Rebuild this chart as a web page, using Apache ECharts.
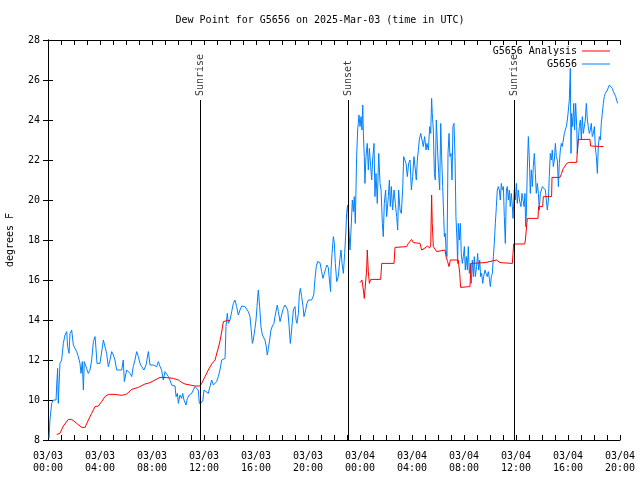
<!DOCTYPE html>
<html><head><meta charset="utf-8">
<script src="https://cdn.jsdelivr.net/npm/echarts@6/dist/echarts.min.js"></script>
<style>html,body{margin:0;padding:0;background:#fff}#c{width:640px;height:480px}</style>
</head><body><div id="c"></div>
<script>
const FONT = '"DejaVu Sans Mono", "Liberation Mono", monospace';
const titleText = 'Dew Point for G5656 on 2025-Mar-03 (time in UTC)';
const yAxisTitle = 'degrees F';
const seriesNames = ['G5656 Analysis', 'G5656'];
const xMinHour = 0, xMaxHour = 44, xStepHour = 4;
const dayLabels = ['03/03', '03/04'];
const yMin = 8, yMax = 28, yStep = 2;
const eventHours = [11.72, 23.10, 35.87];
const eventLabels = ['Sunrise', 'Sunset', 'Sunrise'];
const eventTop = 25;

// [hours since 2025-03-03 00:00 UTC, dew point °F]
const analysisData = [
[0.67,8.28],[0.92,8.33],[1.18,8.7],[1.56,9.03],[1.82,9.03],[2.21,8.83],[2.59,8.63],[2.85,8.63],[3.10,9.0],[3.36,9.33],
[3.62,9.67],[3.87,9.7],[4.13,9.92],[4.38,10.17],[4.64,10.28],[5.15,10.28],[5.67,10.23],[6.05,10.3],[6.44,10.53],[6.95,10.63],
[7.46,10.8],[7.85,10.87],[8.23,11.0],[8.62,11.13],[9.13,11.12],[9.64,11.08],[10.03,11.0],[10.28,10.88],[10.54,10.8],[10.92,10.75],
[11.31,10.7],[11.69,10.7],[11.82,10.83],[12.08,11.17],[12.33,11.5],[12.59,11.8],[12.72,11.83],[12.85,12.0],[12.97,12.3],[13.10,12.6],
[13.23,12.95],[13.36,13.4],[13.49,13.92],[13.79,13.97],[14.0,13.97],[19,null],
[24.0,15.87],[24.15,16.0],[24.26,15.5],[24.33,15.08],[24.46,15.08],[24.51,16.5],[24.56,17.5],[24.64,16.42],[24.72,15.83],[24.82,16.03],
[25.59,16.03],[25.67,16.83],[26.62,16.83],[26.69,17.63],[27.59,17.67],[27.72,17.83],[27.97,18.03],[28.10,17.87],[28.62,17.83],[28.74,17.5],
[29.0,17.6],[29.18,17.7],[29.36,17.6],[29.44,17.75],[29.51,20.25],[29.56,18.83],[29.64,17.67],[29.79,17.58],[29.90,17.42],[30.54,17.5],
[30.62,17.17],[30.74,16.92],[30.85,16.67],[30.95,17.0],[31.56,17.0],[31.67,16.33],[31.74,15.63],[32.46,15.67],[32.54,16.83],[33.62,16.87],
[33.69,16.97],[34.51,17.0],[34.77,16.87],[35.72,16.83],[35.77,17.33],[35.82,17.8],[36.67,17.8],[36.72,18.0],[36.87,19.08],[37.69,19.08],
[37.74,19.67],[38.05,19.67],[38.10,20.17],[38.74,20.17],[38.77,21.13],[39.38,21.13],[39.51,21.33],[39.64,21.58],[39.77,21.7],[39.90,21.83],
[40.10,21.88],[40.67,21.88],[40.72,22.5],[40.79,23.03],[41.69,23.03],[41.74,22.7],[42.72,22.67]
];

const stationData = [
[0.08,8.08],[0.15,9.0],[0.28,9.83],[0.41,10.0],[0.62,10.0],[0.67,10.75],[0.74,11.58],[0.79,9.83],[0.92,11.83],[1.05,12.0],
[1.18,12.83],[1.31,13.25],[1.44,13.42],[1.51,12.67],[1.62,12.33],[1.69,13.33],[1.82,13.5],[1.95,12.75],[2.08,12.58],[2.21,12.42],
[2.33,12.17],[2.46,11.83],[2.54,11.33],[2.64,11.92],[2.72,10.5],[2.79,11.92],[2.97,11.58],[3.10,11.33],[3.23,11.5],[3.36,12.0],
[3.49,12.92],[3.62,13.17],[3.69,12.58],[3.77,11.83],[4.0,11.83],[4.13,11.83],[4.26,13.0],[4.38,13.08],[4.51,12.33],[4.64,11.67],
[4.77,12.0],[4.90,12.42],[5.03,12.25],[5.15,12.0],[5.28,11.5],[5.41,11.5],[5.67,11.5],[5.79,12.0],[5.87,10.92],[6.05,11.5],
[6.18,11.42],[6.31,11.33],[6.44,11.17],[6.56,11.67],[6.69,12.0],[6.82,12.42],[6.95,12.17],[7.08,11.83],[7.21,11.67],[7.33,11.58],
[7.38,11.5],[7.54,11.75],[7.72,12.42],[7.85,11.75],[8.10,11.75],[8.36,11.67],[8.49,11.92],[8.62,11.67],[8.74,11.5],[8.87,11.0],
[9.0,11.42],[9.13,11.5],[9.26,11.17],[9.38,11.0],[9.51,10.75],[9.64,10.75],[9.77,10.7],[9.85,10.17],[9.95,10.33],[10.03,9.83],
[10.15,10.25],[10.28,10.08],[10.36,10.33],[10.46,10.0],[10.62,9.75],[10.72,10.08],[10.87,10.25],[11.05,10.33],[11.18,10.5],[11.31,10.67],
[11.44,10.75],[11.56,10.5],[11.64,9.83],[11.74,9.8],[11.90,9.92],[12.0,10.5],[12.15,10.58],[12.33,10.33],[12.46,10.67],[12.59,11.0],
[12.72,10.75],[12.85,10.83],[12.97,10.92],[13.10,11.17],[13.23,11.5],[13.36,12.0],[13.49,12.08],[13.62,12.08],[13.69,13.67],[13.79,14.33],
[13.87,13.83],[14.0,14.0],[14.13,14.42],[14.26,14.83],[14.38,15.0],[14.51,14.67],[14.64,14.25],[14.77,14.5],[14.90,14.7],[15.03,14.75],
[15.15,14.67],[15.28,14.58],[15.41,14.42],[15.54,14.17],[15.62,13.58],[15.72,12.83],[15.79,13.0],[15.92,13.58],[16.0,14.0],[16.08,14.67],
[16.13,15.17],[16.18,15.5],[16.28,14.67],[16.38,13.67],[16.49,13.25],[16.56,13.17],[16.69,13.0],[16.77,12.75],[16.87,12.25],[16.95,12.58],
[17.05,13.0],[17.15,13.5],[17.26,13.7],[17.38,13.83],[17.46,14.17],[17.56,14.5],[17.64,14.75],[17.72,14.42],[17.85,13.92],[17.97,14.25],
[18.10,14.58],[18.23,14.75],[18.36,14.8],[18.44,14.5],[18.54,13.75],[18.64,12.83],[18.74,13.5],[18.87,14.5],[19.0,14.67],[19.08,14.0],
[19.15,13.83],[19.26,14.33],[19.33,15.25],[19.41,15.58],[19.51,15.17],[19.62,14.67],[19.69,14.17],[19.82,14.5],[19.92,14.83],[20.03,15.0],
[20.28,15.0],[20.44,15.25],[20.54,16.08],[20.64,16.67],[20.74,16.92],[20.92,16.87],[21.05,16.42],[21.15,16.08],[21.26,16.33],[21.36,16.58],
[21.46,16.75],[21.56,16.63],[21.67,15.83],[21.74,15.42],[21.77,16.5],[21.85,17.33],[21.95,18.17],[22.03,17.83],[22.10,16.83],[22.21,15.92],
[22.33,16.17],[22.46,17.08],[22.54,17.5],[22.62,16.83],[22.72,16.33],[22.82,17.33],[22.92,18.5],[22.97,19.33],[23.05,19.75],[23.15,18.5],
[23.23,17.5],[23.31,18.5],[23.41,20.0],[23.49,19.42],[23.56,20.17],[23.64,18.83],[23.74,22.17],[23.82,23.5],[23.92,24.25],[24.0,23.67],
[24.08,24.17],[24.15,23.5],[24.21,24.75],[24.26,23.33],[24.33,22.17],[24.38,20.83],[24.46,22.17],[24.56,22.83],[24.64,21.5],[24.72,22.58],
[24.82,21.67],[24.90,21.0],[24.97,22.0],[25.08,22.83],[25.15,20.17],[25.23,21.33],[25.33,19.83],[25.44,22.33],[25.54,20.83],[25.62,20.5],
[25.72,18.83],[25.79,18.17],[25.87,19.83],[25.97,20.5],[26.05,19.17],[26.18,20.17],[26.26,21.0],[26.33,19.67],[26.41,20.67],[26.51,19.5],
[26.62,20.5],[26.72,19.83],[26.82,19.17],[26.90,18.5],[26.97,20.5],[27.08,19.5],[27.18,19.33],[27.28,20.5],[27.36,22.17],[27.46,22.17],
[27.54,21.83],[27.64,21.17],[27.74,21.83],[27.85,22.0],[27.95,20.5],[28.05,21.17],[28.15,22.17],[28.26,21.5],[28.33,21.0],[28.41,22.0],
[28.49,22.5],[28.56,23.0],[28.67,23.33],[28.77,23.0],[28.87,22.67],[28.97,23.17],[29.08,22.5],[29.15,22.83],[29.26,22.5],[29.36,23.67],
[29.44,23.33],[29.51,25.08],[29.56,24.33],[29.64,23.5],[29.72,21.33],[29.79,21.0],[29.87,24.0],[29.97,22.5],[30.05,21.33],[30.13,20.5],
[30.21,23.83],[30.28,22.17],[30.36,20.67],[30.44,19.17],[30.49,18.17],[30.56,18.33],[30.62,17.5],[30.69,17.17],[30.77,22.33],[30.85,23.33],
[30.92,22.17],[31.0,22.33],[31.08,21.0],[31.15,23.67],[31.23,23.83],[31.31,22.17],[31.38,19.17],[31.46,18.0],[31.51,16.83],[31.56,18.83],
[31.64,18.0],[31.72,18.83],[31.79,17.33],[31.87,16.83],[31.95,17.17],[32.03,17.67],[32.10,16.5],[32.18,17.17],[32.26,16.5],[32.33,17.67],
[32.41,16.33],[32.49,16.83],[32.56,15.83],[32.64,17.0],[32.72,16.17],[32.79,17.17],[32.87,16.17],[32.97,16.67],[33.05,17.33],[33.13,16.5],
[33.21,17.0],[33.28,16.17],[33.36,16.33],[33.44,15.83],[33.51,16.17],[33.62,16.5],[33.69,16.33],[33.79,16.17],[33.87,16.42],[33.95,16.08],
[34.03,15.67],[34.10,16.17],[34.18,16.33],[34.26,17.17],[34.33,17.83],[34.41,18.83],[34.49,19.67],[34.56,20.5],[34.64,20.67],[34.72,20.5],
[34.79,20.0],[34.87,20.83],[34.95,20.5],[35.03,20.67],[35.10,19.17],[35.18,17.83],[35.26,20.5],[35.33,20.67],[35.41,20.0],[35.49,20.5],
[35.56,19.67],[35.64,20.33],[35.72,19.67],[35.77,19.08],[35.87,20.5],[35.95,20.0],[36.03,20.83],[36.10,19.83],[36.18,20.5],[36.26,20.0],
[36.31,20.0],[36.38,19.67],[36.46,20.33],[36.54,20.0],[36.62,19.67],[36.69,20.33],[36.74,18.67],[36.79,19.17],[36.87,21.5],[36.95,23.17],
[37.03,22.0],[37.10,20.33],[37.18,21.5],[37.26,20.67],[37.33,21.67],[37.41,22.33],[37.49,21.33],[37.56,20.33],[37.64,20.83],[37.72,20.33],
[37.79,19.5],[37.87,20.33],[37.95,20.5],[38.03,20.67],[38.10,20.67],[38.18,20.67],[38.26,20.5],[38.33,20.0],[38.41,19.5],[38.49,20.0],
[38.56,21.17],[38.64,22.33],[38.72,22.0],[38.79,22.5],[38.87,21.67],[38.95,22.0],[39.03,22.83],[39.10,22.17],[39.18,22.0],[39.26,20.67],
[39.33,21.83],[39.41,22.5],[39.49,22.83],[39.56,22.67],[39.64,23.0],[39.72,23.33],[39.79,23.5],[39.87,23.67],[39.95,24.0],[40.03,24.5],
[40.10,25.0],[40.18,26.58],[40.23,22.33],[40.28,24.33],[40.36,23.67],[40.44,24.83],[40.51,23.5],[40.59,24.83],[40.67,23.67],[40.72,22.33],
[40.79,23.0],[40.87,23.67],[40.95,24.0],[41.03,23.0],[41.10,24.17],[41.18,23.33],[41.26,23.33],[41.33,24.0],[41.41,24.83],[41.49,24.0],
[41.56,23.67],[41.64,23.33],[41.72,23.5],[41.79,23.83],[41.87,23.17],[41.95,23.33],[42.03,23.67],[42.10,22.67],[42.18,22.17],[42.26,21.33],
[42.33,22.67],[42.41,23.17],[42.49,23.0],[42.56,23.83],[42.64,24.33],[42.72,24.83],[42.79,25.17],[42.87,25.33],[42.95,25.42],[43.03,25.5],
[43.10,25.58],[43.18,25.75],[43.26,25.8],[43.33,25.75],[43.41,25.58],[43.49,25.42],[43.56,25.33],[43.67,25.17],[43.74,25.0],[43.82,24.83]
];

function fmtX(v) {
  const h = Math.round(v);
  const day = dayLabels[Math.floor(h / 24)] || '';
  const hh = String(h % 24).padStart(2, '0');
  return day + '\n' + hh + ':00';
}

const chart = echarts.init(document.getElementById('c'), null, {renderer: 'canvas'});
const axisCommon = {
  axisLine: {show: true, lineStyle: {color: '#000', width: 1}},
  splitLine: {show: false}
};
chart.setOption({
  animation: false,
  backgroundColor: '#fff',
  textStyle: {fontFamily: FONT, color: '#000'},
  title: {text: titleText, left: 'center', top: 10,
    textStyle: {fontFamily: FONT, fontSize: 10, fontWeight: 'normal', color: '#000'}},
  legend: {
    data: seriesNames, orient: 'vertical', right: 25, top: 41, align: 'right',
    icon: 'rect', itemWidth: 28, itemHeight: 1, itemGap: 3,
    textStyle: {fontFamily: FONT, fontSize: 10, color: '#000'}
  },
  grid: {left: 48, right: 20, top: 40, bottom: 40, containLabel: false, outerBoundsMode: 'none'},
  xAxis: [
    Object.assign({type: 'value', min: xMinHour, max: xMaxHour, interval: xStepHour, position: 'bottom',
      axisTick: {show: true, inside: true, length: 5, lineStyle: {color: '#000'}},
      minorTick: {show: true, splitNumber: 4, length: 5, lineStyle: {color: '#000'}},
      axisLabel: {formatter: fmtX, fontFamily: FONT, fontSize: 10, color: '#000', lineHeight: 12, margin: 10}
    }, axisCommon),
    Object.assign({type: 'value', min: xMinHour, max: xMaxHour, interval: xStepHour, position: 'top',
      axisTick: {show: true, inside: true, length: 5, lineStyle: {color: '#000'}},
      minorTick: {show: true, splitNumber: 4, length: 5, lineStyle: {color: '#000'}},
      axisLabel: {show: false}
    }, axisCommon)
  ],
  yAxis: [
    Object.assign({type: 'value', min: yMin, max: yMax, interval: yStep, position: 'left',
      name: yAxisTitle, nameLocation: 'middle', nameGap: 33, nameRotate: 90,
      nameTextStyle: {fontFamily: FONT, fontSize: 10, color: '#000'},
      axisTick: {show: true, inside: true, length: 5, lineStyle: {color: '#000'}},
      axisLabel: {fontFamily: FONT, fontSize: 10, color: '#000', margin: 8}
    }, axisCommon),
    Object.assign({type: 'value', min: yMin, max: yMax, interval: yStep, position: 'right',
      axisTick: {show: true, inside: true, length: 5, lineStyle: {color: '#000'}},
      axisLabel: {show: false}
    }, axisCommon)
  ],
  series: [
    {
      name: seriesNames[0], type: 'line', xAxisIndex: 0, yAxisIndex: 0,
      data: analysisData.map(d => [d[0], d[1] === null ? '-' : d[1]]),
      showSymbol: false, symbol: 'none', connectNulls: false,
      lineStyle: {color: '#ff0000', width: 1}, itemStyle: {color: '#ff0000'}, z: 3
    },
    {
      name: seriesNames[1], type: 'line', xAxisIndex: 0, yAxisIndex: 0,
      data: stationData,
      showSymbol: false, symbol: 'none',
      lineStyle: {color: '#0080ff', width: 1}, itemStyle: {color: '#0080ff'}, z: 2
    },
    {
      name: 'events', type: 'scatter', xAxisIndex: 0, yAxisIndex: 0,
      data: eventHours.map(h => [h, eventTop]),
      symbolSize: 0, silent: true,
      label: {show: true, position: 'top', distance: 4, rotate: 90, align: 'left', verticalAlign: 'middle',
        fontFamily: FONT, fontSize: 10, color: '#000',
        formatter: p => eventLabels[p.dataIndex]},
      markLine: {
        silent: true, symbol: ['none', 'none'], label: {show: false},
        lineStyle: {color: '#000', width: 1, type: 'solid'},
        data: eventHours.map(h => [{coord: [h, yMin]}, {coord: [h, eventTop]}])
      }
    }
  ]
});
</script></body></html>
